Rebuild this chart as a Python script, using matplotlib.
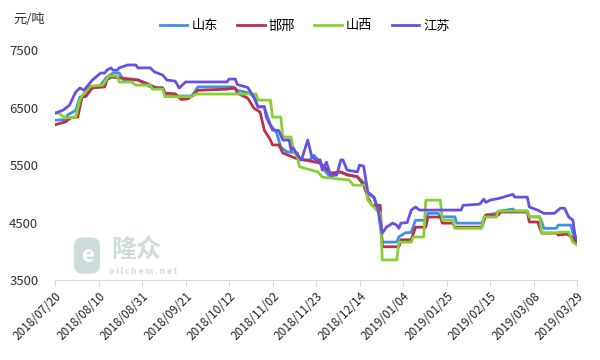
import numpy as np
import pandas as pd
import matplotlib
matplotlib.use("Agg")
import matplotlib.pyplot as plt
import matplotlib.dates as mdates

plt.rcParams['font.family'] = ['Noto Sans CJK SC', 'DejaVu Sans']

# 山东
sd_dates = ['2018-07-20', '2018-07-25', '2018-07-26', '2018-07-30', '2018-08-01', '2018-08-04', '2018-08-06',
            '2018-08-11', '2018-08-14', '2018-08-17', '2018-08-20', '2018-08-22', '2018-08-29', '2018-09-04',
            '2018-09-10', '2018-09-12', '2018-09-24', '2018-09-27', '2018-10-14', '2018-10-16', '2018-10-22',
            '2018-10-24', '2018-10-26', '2018-10-29', '2018-10-30', '2018-11-01', '2018-11-04', '2018-11-06',
            '2018-11-09', '2018-11-14', '2018-11-15', '2018-11-20', '2018-11-22', '2018-11-24', '2018-11-27',
            '2018-11-30', '2018-12-04', '2018-12-13', '2018-12-16', '2018-12-18', '2018-12-21', '2018-12-23',
            '2018-12-25', '2019-01-01', '2019-01-02', '2019-01-05', '2019-01-08', '2019-01-10', '2019-01-15',
            '2019-01-16', '2019-01-21', '2019-01-22', '2019-01-29', '2019-01-30', '2019-02-11', '2019-02-13',
            '2019-02-18', '2019-02-20', '2019-02-26', '2019-02-27', '2019-03-05', '2019-03-06', '2019-03-11',
            '2019-03-13', '2019-03-19', '2019-03-20', '2019-03-26', '2019-03-27', '2019-03-29']
sd_vals = [6280, 6290, 6370, 6450, 6680, 6700, 6840,
           6890, 7030, 7100, 7100, 6980, 6980, 6860,
           6840, 6700, 6700, 6860, 6860, 6800, 6750,
           6680, 6510, 6510, 6400, 6200, 6060, 5810,
           5730, 5710, 5590, 5590, 5670, 5590, 5410,
           5290, 5380, 5290, 5200, 5010, 4930, 4720,
           4160, 4160, 4250, 4320, 4330, 4540, 4540,
           4660, 4660, 4600, 4600, 4490, 4490, 4630,
           4660, 4700, 4735, 4700, 4700, 4600, 4600,
           4400, 4400, 4456, 4456, 4320, 4160]

# 邯邢
hx_dates = ['2018-07-20', '2018-07-25', '2018-07-28', '2018-07-31', '2018-08-02', '2018-08-04', '2018-08-07',
            '2018-08-13', '2018-08-14', '2018-08-16', '2018-08-22', '2018-08-29', '2018-09-02', '2018-09-07',
            '2018-09-10', '2018-09-11', '2018-09-16', '2018-09-19', '2018-09-22', '2018-09-25', '2018-09-27',
            '2018-10-11', '2018-10-15', '2018-10-16', '2018-10-21', '2018-10-24', '2018-10-27', '2018-10-29',
            '2018-11-01', '2018-11-02', '2018-11-05', '2018-11-07', '2018-11-13', '2018-11-25', '2018-11-30',
            '2018-12-05', '2018-12-08', '2018-12-13', '2018-12-16', '2018-12-18', '2018-12-20', '2018-12-24',
            '2018-12-25', '2019-01-02', '2019-01-03', '2019-01-08', '2019-01-10', '2019-01-15', '2019-01-16',
            '2019-01-22', '2019-01-23', '2019-01-28', '2019-01-29', '2019-02-11', '2019-02-13', '2019-02-19',
            '2019-02-20', '2019-03-05', '2019-03-06', '2019-03-10', '2019-03-12', '2019-03-19', '2019-03-20',
            '2019-03-24', '2019-03-27', '2019-03-29']
hx_vals = [6200, 6250, 6330, 6335, 6680, 6700, 6840,
           6860, 6980, 7030, 7010, 6980, 6925, 6840,
           6840, 6750, 6740, 6640, 6650, 6720, 6800,
           6820, 6840, 6750, 6665, 6490, 6420, 6110,
           5935, 5850, 5850, 5710, 5620, 5535, 5360,
           5380, 5326, 5300, 5150, 4940, 4800, 4800,
           4080, 4080, 4200, 4200, 4420, 4420, 4596,
           4596, 4490, 4490, 4420, 4420, 4630, 4630,
           4683, 4683, 4510, 4510, 4317, 4317, 4283,
           4300, 4240, 4140]

# 山西
sx_dates = ['2018-07-20', '2018-07-22', '2018-07-25', '2018-07-30', '2018-08-01', '2018-08-02', '2018-08-06',
            '2018-08-12', '2018-08-15', '2018-08-19', '2018-08-20', '2018-08-26', '2018-08-28', '2018-09-04',
            '2018-09-05', '2018-09-10', '2018-09-11', '2018-09-24', '2018-09-26', '2018-10-25', '2018-10-26',
            '2018-11-01', '2018-11-02', '2018-11-06', '2018-11-07', '2018-11-11', '2018-11-12', '2018-11-14',
            '2018-11-15', '2018-11-24', '2018-11-26', '2018-12-09', '2018-12-11', '2018-12-17', '2018-12-18',
            '2018-12-21', '2018-12-23', '2018-12-24', '2018-12-25', '2019-01-01', '2019-01-02', '2019-01-08',
            '2019-01-09', '2019-01-14', '2019-01-15', '2019-01-22', '2019-01-23', '2019-01-28', '2019-01-29',
            '2019-02-11', '2019-02-12', '2019-02-18', '2019-02-19', '2019-03-05', '2019-03-06', '2019-03-11',
            '2019-03-12', '2019-03-19', '2019-03-20', '2019-03-25', '2019-03-27', '2019-03-29']
sx_vals = [6400, 6400, 6320, 6335, 6630, 6700, 6870,
           6890, 7048, 7048, 6943, 6943, 6890, 6890,
           6820, 6820, 6690, 6690, 6735, 6735, 6630,
           6630, 6335, 6335, 5987, 5987, 5760, 5640,
           5470, 5380, 5290, 5240, 5150, 5150, 4890,
           4770, 4680, 4680, 3850, 3850, 4160, 4160,
           4250, 4250, 4890, 4890, 4543, 4543, 4400,
           4400, 4596, 4596, 4700, 4700, 4596, 4596,
           4317, 4317, 4335, 4335, 4160, 4110]

# 江苏
js_dates = ['2018-07-20', '2018-07-24', '2018-07-27', '2018-07-30', '2018-08-01', '2018-08-03', '2018-08-05',
            '2018-08-07', '2018-08-11', '2018-08-13', '2018-08-14', '2018-08-16', '2018-08-17', '2018-08-19',
            '2018-08-20', '2018-08-24', '2018-08-28', '2018-08-29', '2018-09-04', '2018-09-06', '2018-09-10',
            '2018-09-12', '2018-09-16', '2018-09-18', '2018-09-21', '2018-10-11', '2018-10-12', '2018-10-15',
            '2018-10-16', '2018-10-21', '2018-10-24', '2018-10-26', '2018-10-29', '2018-10-30', '2018-11-02',
            '2018-11-05', '2018-11-07', '2018-11-10', '2018-11-11', '2018-11-12', '2018-11-14', '2018-11-16',
            '2018-11-19', '2018-11-21', '2018-11-23', '2018-11-25', '2018-11-26', '2018-11-28', '2018-11-30',
            '2018-12-03', '2018-12-05', '2018-12-06', '2018-12-08', '2018-12-13', '2018-12-14', '2018-12-16',
            '2018-12-18', '2018-12-21', '2018-12-23', '2018-12-25', '2018-12-27', '2018-12-30', '2019-01-01',
            '2019-01-02', '2019-01-03', '2019-01-06', '2019-01-08', '2019-01-10', '2019-01-12', '2019-02-01',
            '2019-02-02', '2019-02-10', '2019-02-12', '2019-02-13', '2019-02-15', '2019-02-20', '2019-02-23',
            '2019-02-26', '2019-02-27', '2019-03-05', '2019-03-06', '2019-03-10', '2019-03-13', '2019-03-18',
            '2019-03-21', '2019-03-23', '2019-03-25', '2019-03-27', '2019-03-28', '2019-03-29']
js_vals = [6404, 6456, 6543, 6770, 6840, 6800, 6890,
           6978, 7100, 7100, 7150, 7190, 7150, 7150,
           7190, 7240, 7240, 7190, 7190, 7120, 7065,
           6978, 6960, 6840, 6945, 6945, 6995, 6995,
           6900, 6850, 6683, 6510, 6520, 6335, 6110,
           6100, 5935, 5935, 5760, 5800, 5674, 5590,
           5935, 5640, 5590, 5590, 5413, 5550, 5326,
           5326, 5590, 5590, 5413, 5380, 5500, 5480,
           5030, 4943, 4717, 4317, 4420, 4490, 4456,
           4400, 4490, 4500, 4717, 4770, 4717, 4717,
           4800, 4820, 4908, 4850, 4890, 4926, 4960,
           4990, 4943, 4943, 4770, 4717, 4660, 4660,
           4750, 4750, 4596, 4543, 4283, 4200]

names = ['山东', '邯邢', '山西', '江苏']
colors = ['#3f8fe6', '#b8304c', '#86d130', '#6a4fe3']
tick_dates = ['2018/07/20', '2018/08/10', '2018/08/31', '2018/09/21', '2018/10/12', '2018/11/02', '2018/11/23',
              '2018/12/14', '2019/01/04', '2019/01/25', '2019/02/15', '2019/03/08', '2019/03/29']
yticks = [3500, 4500, 5500, 6500, 7500]

fig = plt.figure(figsize=(6, 3.6), dpi=100)
ax = fig.add_axes([0.0917, 0.222, 0.87, 0.639])

# watermark (drawn first, behind the lines)
fig.text(0.145, 0.29, 'e', fontsize=16, color='white', fontweight='bold', ha='center', va='center',
         bbox=dict(boxstyle='round,pad=0.3,rounding_size=0.4', fc='#cfdcdc', ec='none'))
fig.text(0.185, 0.272, '隆众', fontsize=18, color='#cfdcdc', fontweight='bold', va='bottom')
fig.text(0.182, 0.257, 'o i l c h e m . n e t', fontsize=6, color='#cfdcdc', fontweight='bold', va='top')

series = [(sd_dates, sd_vals), (hx_dates, hx_vals), (sx_dates, sx_vals), (js_dates, js_vals)]
for (d, v), name, c in zip(series, names, colors):
    ax.plot(pd.to_datetime(d), v, color=c, lw=2, label=name, solid_joinstyle='round')

ax.set_ylim(3500, 7500)
ax.set_yticks(yticks)
ax.set_yticklabels([str(t) for t in yticks], fontsize=9.5, color='#333333')
tk = pd.to_datetime(tick_dates, format='%Y/%m/%d')
ax.set_xlim(tk[0], tk[-1])
ax.set_xticks(tk)
ax.set_xticklabels(tick_dates, rotation=45, ha='right', rotation_mode='anchor', fontsize=8.5, color='#222222')

for s in ['top', 'right', 'left']:
    ax.spines[s].set_visible(False)
ax.spines['bottom'].set_color('#d9d9d9')
ax.tick_params(axis='y', length=0, pad=12)
ax.tick_params(axis='x', length=4, color='#d9d9d9', pad=3)
ax.patch.set_alpha(0)

fig.text(0.023, 0.935, '元/吨', fontsize=9.5, color='#333333')
fig.legend(loc='center', bbox_to_anchor=(0.508, 0.928), ncol=4, frameon=False, fontsize=9.5,
           handlelength=2.1, columnspacing=1.45, handletextpad=0.3)

fig.savefig('out.png', dpi=100)
